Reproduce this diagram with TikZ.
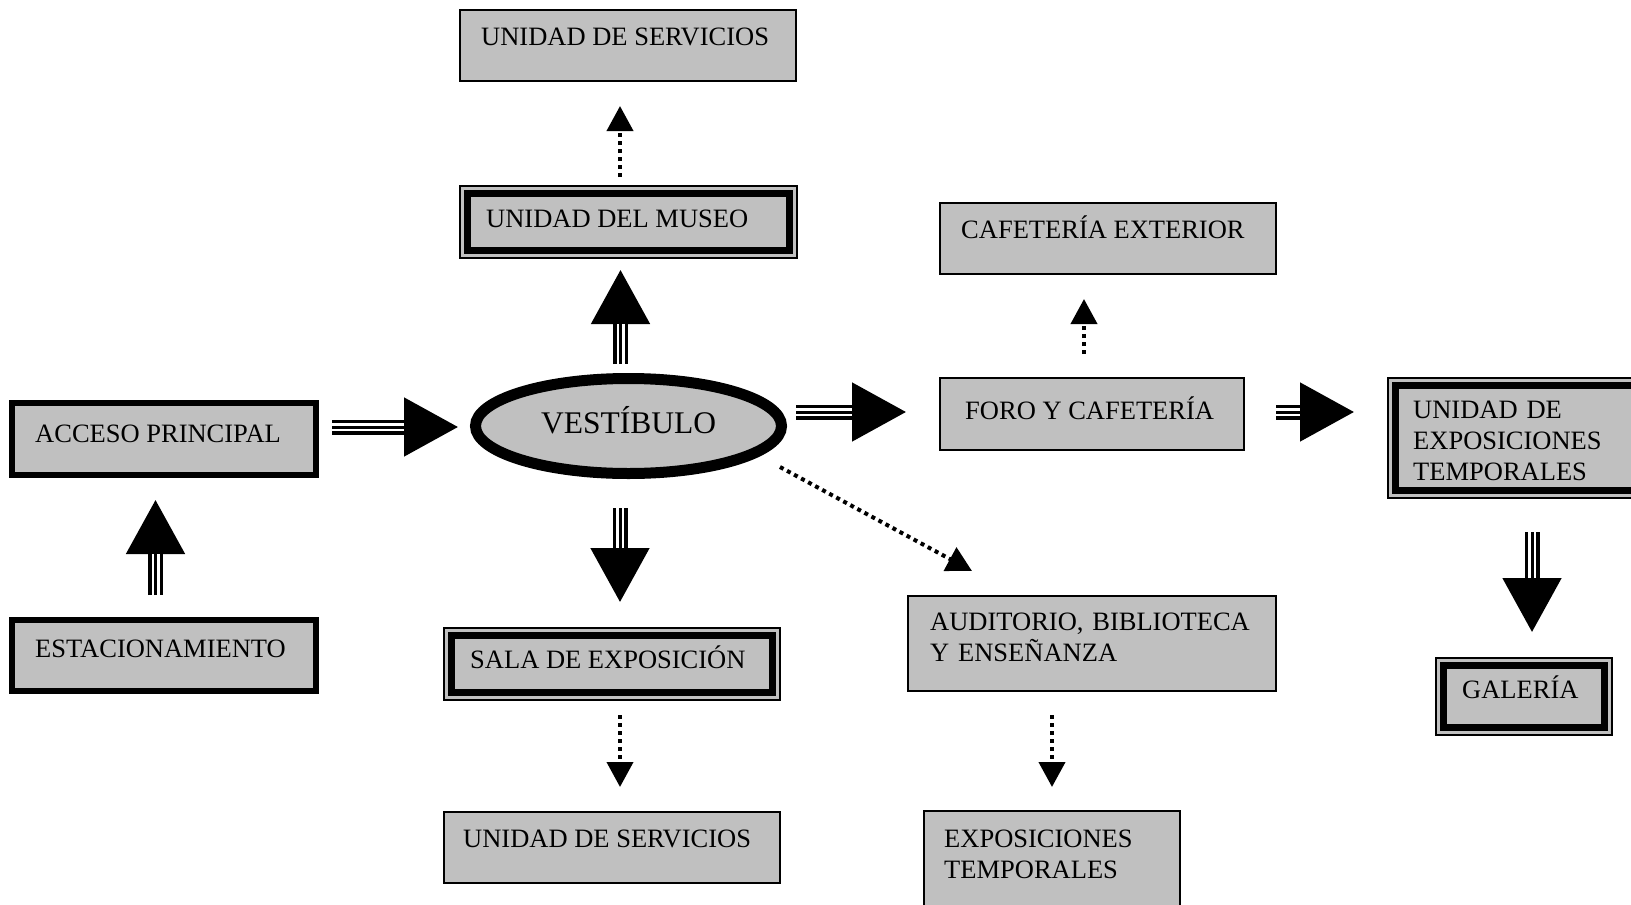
\documentclass[tikz,border=0pt]{standalone}
\usepackage{fontspec}
\setmainfont{Liberation Serif}
\usetikzlibrary{arrows.meta,shapes.geometric}
\definecolor{boxgray}{RGB}{192,192,192}
\newcommand\innerframe[1]{\draw[frame] ([shift={(7.5,7.5)}]#1.north west) rectangle ([shift={(-7.5,-7.5)}]#1.south east);}
\begin{document}
\begin{tikzpicture}[x=1pt,y=-1pt,
  basebox/.style={rectangle, fill=boxgray, draw=black, inner sep=0pt, outer sep=0pt},
  thinbox/.style={basebox, line width=2pt},
  thickbox/.style={basebox, line width=6pt},
  dblbox/.style={basebox, line width=2pt},
  frame/.style={line width=7pt},
  lbl/.style={inner sep=0pt, font=\fontsize{26.5}{31}\selectfont, anchor=base west},
  lbltwo/.style={lbl, text width=320pt, align=left},
  tri/.style={line width=15pt, -{Triangle[length=55pt,width=55pt]},
    postaction={draw=white, line width=8pt, -, shorten >=55pt},
    postaction={draw=black, line width=3pt, -, shorten >=55pt}},
  dotarrow/.style={line width=4pt, dash pattern=on 4pt off 4pt, -{Triangle[length=25pt,width=26pt]}}
]
\useasboundingbox (0,0) rectangle (1631,905);
\clip (0,0) rectangle (1631,905);

% boxes
\node[thinbox, minimum width=336pt, minimum height=71pt] (servtop) at (628,45.5) {};
\node[dblbox, minimum width=337pt, minimum height=72pt] (museo) at (628.5,222) {};
\innerframe{museo}
\node[thickbox, minimum width=304pt, minimum height=72pt] (acceso) at (164,439) {};
\node[thickbox, minimum width=304pt, minimum height=71pt] (estac) at (164,655.5) {};
\node[dblbox, minimum width=336pt, minimum height=72pt] (sala) at (612,664) {};
\innerframe{sala}
\node[thinbox, minimum width=336pt, minimum height=71pt] (servbot) at (612,847.5) {};
\node[thinbox, minimum width=336pt, minimum height=71pt] (cafext) at (1108,238.5) {};
\node[thinbox, minimum width=304pt, minimum height=72pt] (foro) at (1092,414) {};
\node[thinbox, minimum width=368pt, minimum height=95pt] (audit) at (1092,643.5) {};
\node[thinbox, minimum width=256pt, minimum height=129pt] (expo) at (1052,875.5) {};
\node[dblbox, minimum width=292pt, minimum height=120pt] (unexp) at (1534,438) {};
\innerframe{unexp}
\node[dblbox, minimum width=176pt, minimum height=77pt] (galeria) at (1524,696.5) {};
\innerframe{galeria}

\node[ellipse, draw, fill=boxgray, line width=11pt, inner sep=0pt,
  minimum width=306pt, minimum height=95pt, text height=19pt, text depth=5pt,
  font=\fontsize{31.5}{36}\selectfont] (vest) at (628.5,426) {VESTÍBULO};

% labels
\node[lbl] (servtop-t) at (481,45) {UNIDAD DE SERVICIOS};
\node[lbl] (museo-t) at (486,227) {UNIDAD DEL MUSEO};
\node[lbl] (acceso-t) at (35,442) {ACCESO PRINCIPAL};
\node[lbl] (estac-t) at (35,657) {ESTACIONAMIENTO};
\node[lbl] (sala-t) at (470,668) {SALA DE EXPOSICIÓN};
\node[lbl] (servbot-t) at (463,847) {UNIDAD DE SERVICIOS};
\node[lbl] (cafext-t) at (961,238) {CAFETERÍA EXTERIOR};
\node[lbl] (foro-t) at (965,419) {FORO Y CAFETERÍA};
\node[lbltwo] (audit-t) at (930,630) {AUDITORIO, BIBLIOTECA\\Y ENSEÑANZA};
\node[lbltwo] (expo-t) at (944,847) {EXPOSICIONES\\TEMPORALES};
\node[lbltwo] (unexp-t) at (1413,418) {UNIDAD DE\\EXPOSICIONES\\TEMPORALES};
\node[lbl] (galeria-t) at (1462,698) {GALERÍA};

% arrow end points
\coordinate (a1s) at (155.5,595); \coordinate (a1e) at (155.5,499);
\coordinate (a2s) at (332,427);   \coordinate (a2e) at (459,427);
\coordinate (a3s) at (620.5,364); \coordinate (a3e) at (620.5,269);
\coordinate (a4s) at (620,508);   \coordinate (a4e) at (620,603);
\coordinate (a5s) at (796,412);   \coordinate (a5e) at (907,412);
\coordinate (a6s) at (1276,412);  \coordinate (a6e) at (1355,412);
\coordinate (a7s) at (1532,532);  \coordinate (a7e) at (1532,633);
\coordinate (d1s) at (620,177);   \coordinate (d1e) at (620,106);
\coordinate (d2s) at (1084,354);  \coordinate (d2e) at (1084,299);
\coordinate (d3s) at (620,715);   \coordinate (d3e) at (620,787);
\coordinate (d4s) at (1052,715);  \coordinate (d4e) at (1052,787);
\coordinate (d5s) at (780,467);   \coordinate (d5e) at (972,571);

\draw[tri] (a1s) -- (a1e);
\draw[tri] (a2s) -- (a2e);
\draw[tri] (a3s) -- (a3e);
\draw[tri] (a4s) -- (a4e);
\draw[tri] (a5s) -- (a5e);
\draw[tri] (a6s) -- (a6e);
\draw[tri] (a7s) -- (a7e);

\draw[dotarrow] (d1s) -- (d1e);
\draw[dotarrow] (d2s) -- (d2e);
\draw[dotarrow] (d3s) -- (d3e);
\draw[dotarrow] (d4s) -- (d4e);
\draw[dotarrow] (d5s) -- (d5e);
\end{tikzpicture}
\end{document}
